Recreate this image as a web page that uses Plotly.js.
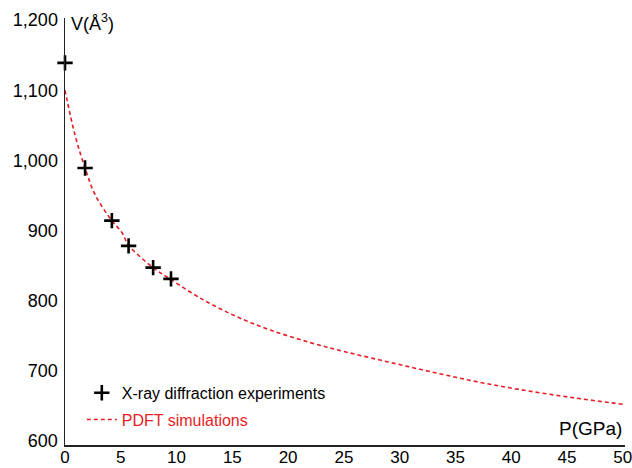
<!DOCTYPE html>
<html>
<head>
<meta charset="utf-8">
<script src="https://cdn.plot.ly/plotly-3.0.1.min.js"></script>
<style>html,body{margin:0;padding:0;background:#fff}#chart{width:632px;height:468px}</style>
</head>
<body>
<div id="chart"></div>
<script>
// X-ray diffraction experiments (pressure in GPa, volume in Å^3)
const xrayP = [0, 1.8, 4.2, 5.7, 7.9, 9.5];
const xrayV = [1139, 989, 914, 878, 847, 831];

// PDFT simulations
const pdftP = [0, 0.9, 1.8, 2.7, 4.2, 5.1, 5.7, 7.9, 9.4, 12.4, 15.4, 18.4, 22.0, 25.1, 29.1, 33.2, 37.0, 40.8, 45.3, 50];
const pdftV = [1100, 1036, 989, 951, 914, 897, 879, 847, 831, 801, 777, 758, 740, 727, 712, 697, 684, 673, 662, 652];

const xTicks = [0, 5, 10, 15, 20, 25, 30, 35, 40, 45, 50];
const yTicks = [600, 700, 800, 900, 1000, 1100, 1200];

const red = 'rgb(232,28,36)';
const fontFam = '"Liberation Sans", Arial, Helvetica, sans-serif';

const traces = [
  {
    x: pdftP, y: pdftV, type: 'scatter', mode: 'lines',
    name: '<span style="color:' + red + '">PDFT simulations</span>',
    line: {color: red, width: 1.6, dash: '4px,3px', shape: 'spline'},
    legendrank: 2, legendgroup: 'b'
  },
  {
    x: xrayP, y: xrayV, type: 'scatter', mode: 'markers',
    name: 'X-ray diffraction experiments',
    marker: {symbol: 'cross-thin', size: 11, color: '#000', line: {color: '#000', width: 2.6}},
    cliponaxis: false,
    legendrank: 1, legendgroup: 'a'
  }
];

const layout = {
  width: 632, height: 468,
  margin: {l: 65, r: 7, t: 18, b: 23},
  paper_bgcolor: '#fff', plot_bgcolor: '#fff',
  font: {family: fontFam, size: 17, color: '#000'},
  showlegend: true,
  legend: {
    x: 0.03, xanchor: 'left', y: 0.162, yanchor: 'top',
    font: {family: fontFam, size: 16, color: '#000'},
    bgcolor: 'rgba(0,0,0,0)', borderwidth: 0,
    traceorder: 'grouped', tracegroupgap: 3
  },
  xaxis: {
    range: [0, 50.2], tickvals: xTicks, ticks: '',
    showline: true, linecolor: '#222', linewidth: 1.5,
    showgrid: false, zeroline: false,
    ticklabeloverflow: 'allow', ticklabelstandoff: -4,
    tickfont: {family: fontFam, size: 17, color: '#000'}
  },
  yaxis: {
    range: [594, 1203], tickvals: yTicks, tickformat: ',d', ticks: '',
    showline: true, linecolor: '#222', linewidth: 1.5,
    showgrid: false, zeroline: false,
    ticklabelstandoff: 2,
    tickfont: {family: fontFam, size: 18, color: '#000'}
  },
  annotations: [
    {
      text: 'V(Å<sup>3</sup>)', xref: 'paper', yref: 'paper', x: 0, y: 1,
      xanchor: 'left', yanchor: 'middle', xshift: 4, yshift: -4,
      showarrow: false, font: {family: fontFam, size: 18, color: '#000'}
    },
    {
      text: 'P(GPa)', xref: 'paper', yref: 'paper', x: 1, y: 0,
      xanchor: 'right', yanchor: 'bottom', xshift: -1, yshift: 4,
      showarrow: false, font: {family: fontFam, size: 19, color: '#000'}
    }
  ]
};

Plotly.newPlot('chart', traces, layout, {displayModeBar: false, staticPlot: true});
</script>
</body>
</html>
